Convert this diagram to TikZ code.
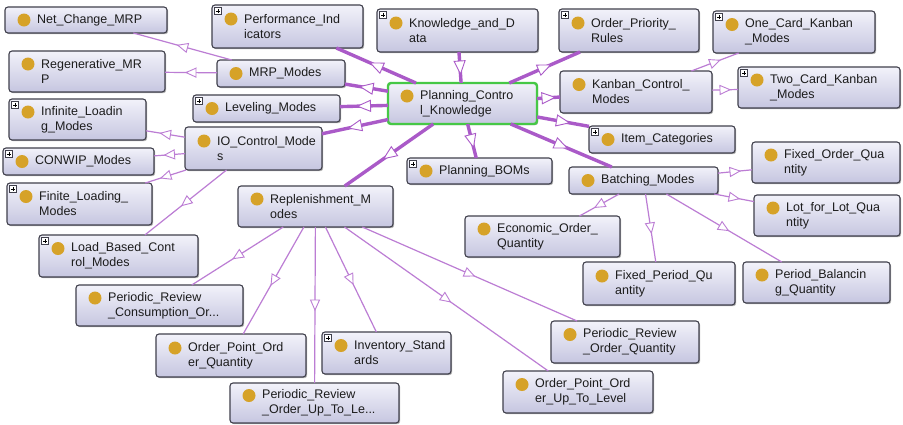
\documentclass[tikz,border=0pt]{standalone}
\usepackage{fontspec}
\setmainfont{Liberation Sans}
\usetikzlibrary{decorations.markings,shadows}

\definecolor{boxtop}{RGB}{242,242,250}
\definecolor{boxbottom}{RGB}{198,198,224}
\definecolor{boxline}{RGB}{64,64,76}
\definecolor{focusline}{RGB}{70,200,70}
\definecolor{hubline}{RGB}{170,90,200}
\definecolor{subline}{RGB}{188,125,212}
\definecolor{dotfill}{RGB}{214,162,40}
\definecolor{labeltext}{RGB}{28,28,28}

\tikzset{
  classbox/.style={draw=boxline, line width=1.1pt, rounded corners=3pt,
    top color=boxtop, bottom color=boxbottom, inner sep=0pt, outer sep=0pt,
    drop shadow={shadow xshift=1.2pt, shadow yshift=-1.2pt, opacity=0.3, fill=black}},
  focus/.style={draw=focusline, line width=2.4pt},
  classtext/.style={anchor=west, inner sep=0pt, align=left, text=labeltext,
    font=\fontsize{12.5}{15}\selectfont},
  hubedge/.style={draw=hubline, line width=3.4pt, postaction={decorate},
    decoration={markings, mark=at position 0.5 with {
      \draw[draw=hubline, fill=white, line width=0.9pt, line join=miter]
        (6.5pt,0pt) -- (-6.5pt,5.5pt) -- (-6.5pt,-5.5pt) -- cycle;}}},
  subedge/.style={draw=subline, line width=1.2pt, postaction={decorate},
    decoration={markings, mark=at position 0.5 with {
      \draw[draw=subline, fill=white, line width=0.9pt, line join=miter]
        (5pt,0pt) -- (-5pt,4.5pt) -- (-5pt,-4.5pt) -- cycle;}}},
}

% [style]{name}{x1}{y1}{x2}{y2}{number of lines}{label}
\newcommand\owlclass[8][]{%
  \node[classbox,#1,minimum width={(#5-#3)*1pt},minimum height={(#6-#4)*1pt}]
    (#2) at ({(#3+#5)/2},{(#4+#6)/2}) {};
  \fill[dotfill] ({#3+19},{(#4+#6)/2-(#7-1)*7.5}) circle (6.5pt);
  \node[classtext] (#2-label) at ({#3+32},{(#4+#6)/2}) {#8};
}
% small expand marker in the upper left corner of a class box
\newcommand\expandmark[1]{%
  \draw[fill=white, draw=boxline, line width=0.6pt]
    ([xshift=2.5pt,yshift=-2.5pt]#1.north west) rectangle ++(7pt,-7pt);
  \draw[line width=0.9pt, draw=black]
    ([xshift=6pt,yshift=-4pt]#1.north west) -- ++(0pt,-4pt)
    ([xshift=4pt,yshift=-6pt]#1.north west) -- ++(4pt,0pt);
}

\begin{document}
\begin{tikzpicture}[x=1pt,y=-1pt]
\fill[white] (0,0) rectangle (903,424);
\useasboundingbox (0,0) rectangle (903,424);

\owlclass{netchange}{5}{7}{167}{33}{1}{Net\_Change\_MRP}
\owlclass{perf}{212}{5}{363}{48}{2}{Performance\_Ind\\icators}
\owlclass{know}{377}{9}{538}{52}{2}{Knowledge\_and\_D\\ata}
\owlclass{prio}{559}{9}{699}{52}{2}{Order\_Priority\_\\Rules}
\owlclass{onecard}{713}{11}{875}{53}{2}{One\_Card\_Kanban\\\_Modes}
\owlclass{regen}{9}{51}{165}{92}{2}{Regenerative\_MR\\P}
\owlclass{mrp}{217}{60}{345}{87}{1}{MRP\_Modes}
\owlclass{kanban}{560}{71}{712}{113}{2}{Kanban\_Control\_\\Modes}
\owlclass{twocard}{738}{67}{900}{108}{2}{Two\_Card\_Kanban\\\_Modes}
\owlclass[focus]{pck}{388}{83}{537}{124}{2}{Planning\_Contro\\l\_Knowledge}
\owlclass{level}{193}{95}{340}{122}{1}{Leveling\_Modes}
\owlclass{infinite}{9}{99}{146}{140}{2}{Infinite\_Loadin\\g\_Modes}
\owlclass{io}{185}{127}{322}{170}{2}{IO\_Control\_Mode\\s}
\owlclass{item}{589}{126}{735}{153}{1}{Item\_Categories}
\owlclass{conwip}{3}{148}{154}{175}{1}{CONWIP\_Modes}
\owlclass{boms}{407}{158}{552}{184}{1}{Planning\_BOMs}
\owlclass{batch}{569}{167}{718}{194}{1}{Batching\_Modes}
\owlclass{fixedorder}{752}{142}{900}{183}{2}{Fixed\_Order\_Qua\\ntity}
\owlclass{finite}{7}{183}{152}{225}{2}{Finite\_Loading\_\\Modes}
\owlclass{replen}{238}{186}{393}{227}{2}{Replenishment\_M\\odes}
\owlclass{lotforlot}{754}{195}{900}{236}{2}{Lot\_for\_Lot\_Qua\\ntity}
\owlclass{eoq}{465}{216}{620}{257}{2}{Economic\_Order\_\\Quantity}
\owlclass{loadbased}{39}{235}{198}{277}{2}{Load\_Based\_Cont\\rol\_Modes}
\owlclass{fixedperiod}{583}{262}{735}{305}{2}{Fixed\_Period\_Qu\\antity}
\owlclass{balancing}{743}{262}{890}{303}{2}{Period\_Balancin\\g\_Quantity}
\owlclass{prconsumption}{76}{285}{243}{326}{2}{Periodic\_Review\\\_Consumption\_Or...}
\owlclass{prorderqty}{551}{321}{699}{363}{2}{Periodic\_Review\\\_Order\_Quantity}
\owlclass{oporderqty}{156}{334}{306}{377}{2}{Order\_Point\_Ord\\er\_Quantity}
\owlclass{invstd}{322}{332}{451}{374}{2}{Inventory\_Stand\\ards}
\owlclass{prupto}{230}{383}{399}{423}{2}{Periodic\_Review\\\_Order\_Up\_To\_Le...}
\owlclass{opupto}{503}{371}{653}{413}{2}{Order\_Point\_Ord\\er\_Up\_To\_Level}

\foreach \n in {perf,know,prio,onecard,twocard,level,infinite,item,conwip,boms,finite,loadbased,invstd}
  {\expandmark{\n}}

% links of the central class
\draw[hubedge] (know) -- (pck);
\draw[hubedge] (pck) -- (perf);
\draw[hubedge] (pck) -- (prio);
\draw[hubedge] (pck) -- (mrp);
\draw[hubedge] (pck) -- (level);
\draw[hubedge] (pck) -- (io);
\draw[hubedge] (pck) -- (kanban);
\draw[hubedge] (pck) -- (item);
\draw[hubedge] (pck) -- (boms);
\draw[hubedge] (pck) -- (replen);
\draw[hubedge] (pck) -- (batch);

% subclass links
\draw[subedge] (mrp) -- (netchange);
\draw[subedge] (mrp) -- (regen);
\draw[subedge] (io) -- (infinite);
\draw[subedge] (io) -- (conwip);
\draw[subedge] (io) -- (finite);
\draw[subedge] (io) -- (loadbased);
\draw[subedge] (kanban) -- (onecard);
\draw[subedge] (kanban) -- (twocard);
\draw[subedge] (batch) -- (fixedorder);
\draw[subedge] (batch) -- (lotforlot);
\draw[subedge] (batch) -- (eoq);
\draw[subedge] (batch) -- (fixedperiod);
\draw[subedge] (batch) -- (balancing);
\draw[subedge] (replen) -- (prconsumption);
\draw[subedge] (replen) -- (oporderqty);
\draw[subedge] (replen) -- (prupto);
\draw[subedge] (replen) -- (invstd);
\draw[subedge] (replen) -- (opupto);
\draw[subedge] (replen) -- (prorderqty);
\end{tikzpicture}
\end{document}
